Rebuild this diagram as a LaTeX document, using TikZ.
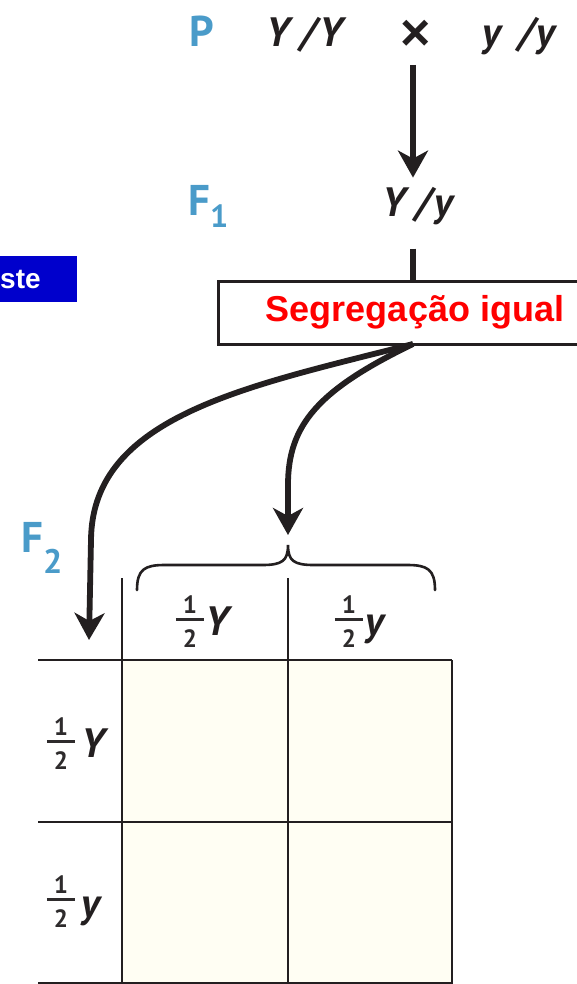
\documentclass[tikz,border=0pt]{standalone}
\usepackage{fontspec}
\setmainfont{Liberation Sans}
\newfontfamily\genfont{PT Sans}
\usetikzlibrary{arrows.meta}
\definecolor{genblue}{HTML}{4A9BC9}
\definecolor{ink}{HTML}{231F20}
\definecolor{digit}{HTML}{2E2B2C}
\definecolor{cellfill}{HTML}{FFFEF3}
\definecolor{boxblue}{HTML}{0000CC}
\newcommand\halfnum{{\fontsize{25}{25}\selectfont\bfseries\setlength\arrayrulewidth{2.6pt}\renewcommand\arraystretch{0}%
\begin{tabular}{@{\hspace{7pt}}c@{\hspace{7pt}}}\rule[-5pt]{0pt}{23pt}1\\\hline\rule[-1pt]{0pt}{28pt}2\end{tabular}}}
\begin{document}
\begin{tikzpicture}[x=1pt,y=-1pt,
  gen/.style={font=\genfont\fontsize{41}{43}\selectfont\bfseries\itshape, text=ink, inner sep=0pt},
  genlab/.style={font=\genfont\fontsize{43}{45}\selectfont\bfseries, text=genblue, inner sep=0pt},
  frac/.style={font=\genfont, text=digit, inner sep=0pt},
  bigarrow/.style={line width=5.8pt, draw=ink, -{Stealth[length=27pt,width=30pt,inset=8pt]}},
  stem/.style={line width=5.8pt, draw=ink},
  grid/.style={line width=2.2pt, draw=ink},
  brace/.style={line width=2.6pt, draw=ink, line cap=round}]
\useasboundingbox (0,0) rectangle (577,984);
\clip (0,0) rectangle (577,984);
\fill[white] (0,0) rectangle (577,984);

% Parental line
\node[genlab, anchor=base west] (P) at (189,47) {P};
\node[gen, anchor=base west] (pYY) at (266,47) {Y\hspace{11pt}/\hspace{3pt}Y};
\node[font=\bfseries\fontsize{52}{52}\selectfont, text=ink, inner sep=0pt, anchor=center] (cross) at (416,35) {×};
\node[gen, anchor=base west] (pyy) at (482,47) {y\hspace{18pt}/\hspace{2pt}y};

% F1
\node[genlab, anchor=base west] (F1) at (188,215) {F\raisebox{-13pt}{\fontsize{32}{32}\selectfont 1}};
\node[gen, anchor=base] (f1g) at (418,217) {Y\hspace{10pt}/\hspace{3pt}y};
\coordinate (a1top) at (413,47);
\draw[bigarrow, shorten <=18pt, shorten >=10pt] (a1top) -- (a1top |- f1g.north);

% blue tab
\node[fill=boxblue, text=white, font=\bfseries\fontsize{28}{28}\selectfont, minimum width=77pt, minimum height=46pt, inner sep=0pt, anchor=north west, text width=77pt, align=left] (tab) at (0,256) {ste};

% segregation box
\node[draw=ink, line width=3pt, fill=white, minimum width=394pt, minimum height=63pt, inner sep=0pt,
      text=red, font=\bfseries\fontsize{36}{36}\selectfont] (seg) at (415,312.5) {\raisebox{-1pt}{Segregação igual}};
\draw[stem, shorten <=23pt] (a1top |- f1g.south) -- (a1top |- seg.north);

% F2
\node[genlab, anchor=base west] (F2) at (21,552) {F\raisebox{-21pt}{\fontsize{34}{34}\selectfont 2}};

% grid
\fill[cellfill] (122,660) rectangle (452,984);
\draw[grid] (38,660) -- (452,660);
\draw[grid] (38,822) -- (452,822);
\draw[grid] (38,983) -- (452,983);
\draw[grid] (122,578) -- (122,984);
\draw[grid] (288,578) -- (288,984);
\draw[grid] (452,660) -- (452,984);

% brace
\coordinate (bracetip) at (288,545);
\draw[brace] (137,590) .. controls (137,569) and (145,565) .. (165,565) -- (262,565)
   .. controls (282,565) and (288,561) .. (bracetip)
   .. controls (288,561) and (294,565) .. (314,565) -- (407,565)
   .. controls (427,565) and (435,569) .. (435,590);

% curved arrows
\coordinate (start) at (413,344);
\coordinate (lefttip) at (89,640);
\draw[bigarrow] (start) .. controls (250,386) and (92,415) .. (91,540) -- (lefttip);
\draw[bigarrow, shorten >=10pt] (start) .. controls (318,390) and (288,425) .. (288,485) -- (bracetip);

% labels
\node[frac] (c1f) at (190,622) {\halfnum};
\node[gen, anchor=base west] (c1l) at (205,635) {Y};
\node[frac] (c2f) at (349,622) {\halfnum};
\node[gen, anchor=base west] (c2l) at (365,635) {y};
\node[frac] (r1f) at (61,744) {\halfnum};
\node[gen, anchor=base west] (r1l) at (81,757) {Y};
\node[frac] (r2f) at (61,902) {\halfnum};
\node[gen, anchor=base west] (r2l) at (81,917) {y};
\end{tikzpicture}
\end{document}
